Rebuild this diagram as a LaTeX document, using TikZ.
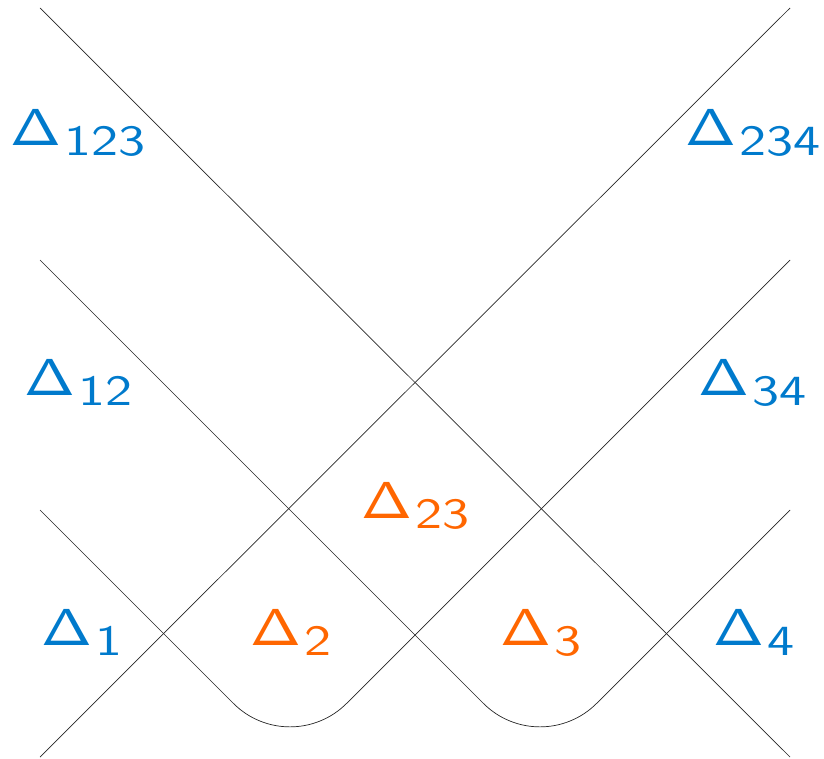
\documentclass[tikz,border=0pt]{standalone}
\usepackage{graphicx}
\definecolor{dblue}{RGB}{0,122,204}
\definecolor{dorange}{RGB}{255,102,0}
\newcommand\dl[1]{\scalebox{6.1}[5.2]{$\mathsf{\Delta}$}\hspace{3pt}\raisebox{-10pt}{\scalebox{5.4}[4.3]{\sffamily #1}}}
\tikzset{
  lab/.style={anchor=base west, inner sep=0pt, text=#1},
  ln/.style={draw=black!85, line width=0.7pt}
}
\begin{document}
\begin{tikzpicture}[x=1pt,y=-1pt]
\useasboundingbox (0,0) rectangle (824,759);
\coordinate (a1) at (40,8);   \coordinate (a2) at (790,757);
\coordinate (b1) at (40,757); \coordinate (b2) at (790,8);
\coordinate (c1) at (40,510); \coordinate (c2) at (290,760); \coordinate (c3) at (790,260);
\coordinate (e1) at (40,260); \coordinate (e2) at (540,760); \coordinate (e3) at (790,510);
\draw[ln] (a1) -- (a2);
\draw[ln] (b1) -- (b2);
\draw[ln, rounded corners=80pt] (c1) -- (c2) -- (c3);
\draw[ln, rounded corners=80pt] (e1) -- (e2) -- (e3);
\node[lab=dblue]   (d123) at (10,146) {\dl{123}};
\node[lab=dblue]   (d234) at (685,146) {\dl{234}};
\node[lab=dblue]   (d12)  at (24,395) {\dl{12}};
\node[lab=dblue]   (d34)  at (698,395) {\dl{34}};
\node[lab=dorange] (d23)  at (361,518) {\dl{23}};
\node[lab=dblue]   (d1)   at (41,645) {\dl{1}};
\node[lab=dorange] (d2)   at (250,645) {\dl{2}};
\node[lab=dorange] (d3)   at (500,645) {\dl{3}};
\node[lab=dblue]   (d4)   at (713,645) {\dl{4}};
\end{tikzpicture}
\end{document}
